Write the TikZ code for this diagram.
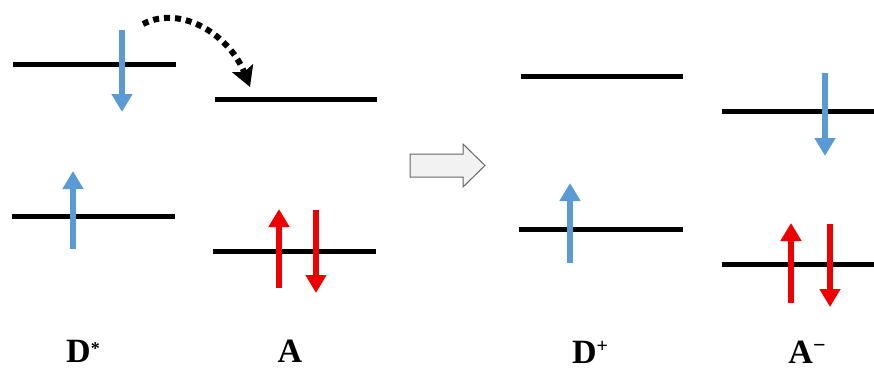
\documentclass[tikz,border=0pt]{standalone}
\usepackage{fontspec}
\setmainfont{Liberation Serif}
\usepackage{xcolor}
\usepackage{tikz}
\usetikzlibrary{arrows.meta, positioning}

\definecolor{spinblue}{RGB}{91,155,213}
\definecolor{spinred}{RGB}{238,0,0}

\begin{document}
\begin{tikzpicture}[
  x=1pt, y=-1pt,
  level/.style={line width=5pt, black},
  upspin/.style={line width=6pt, -{Triangle[width=20pt, length=18pt]}},
  bluespin/.style={upspin, spinblue},
  redspin/.style={upspin, spinred},
  hop/.style={line width=6pt, dash pattern=on 6pt off 5pt, -{Stealth[width=22pt, length=20pt, inset=4pt]}},
  blockarrow/.style={draw=gray!80!black, fill=gray!10, line width=1pt, line join=miter},
  statelabel/.style={font=\bfseries\fontsize{34}{34}\selectfont, anchor=base, inner sep=0pt},
]
\useasboundingbox (0,0) rectangle (874,369);

% D* levels
\draw[level] (13,64) -- (176,64);
\draw[level] (12,216) -- (175,216);
\draw[bluespin] (122,30) -- (122,112);
\draw[bluespin] (73,249) -- (73,171);

% A levels
\draw[level] (215,99) -- (377,99);
\draw[level] (213,251) -- (376,251);
\draw[redspin] (279,288) -- (279,209);
\draw[redspin] (316,210) -- (316,293);

% Electron transfer
\coordinate (hopstart) at (143,24);
\coordinate (hopend) at (250,87);
\draw[hop] (hopstart) .. controls (182,4) and (230,36) .. (hopend);

% Reaction arrow
\draw[blockarrow] (410,154) -- (463,154) -- (463,144) -- (485,165.5)
  -- (463,187) -- (463,177) -- (410,177) -- cycle;

% D+ levels
\draw[level] (521,76) -- (683,76);
\draw[level] (519,229) -- (683,229);
\draw[bluespin] (570,263) -- (570,183);

% A- levels
\draw[level] (722,111) -- (874,111);
\draw[level] (722,264) -- (874,264);
\draw[bluespin] (825,73) -- (825,156);
\draw[redspin] (791,303) -- (791,223);
\draw[redspin] (830,224) -- (830,307);

% Labels
\node[statelabel] (dstar) at (83,362) {D\raisebox{8pt}{\fontsize{18}{18}\selectfont *}};
\node[statelabel] (acc) at (290,362) {A};
\node[statelabel] (dplus) at (590,363) {D\raisebox{11pt}{\fontsize{20}{20}\selectfont +}};
\node[statelabel] (aminus) at (807,363) {A\raisebox{11pt}{\fontsize{22}{22}\selectfont −}};

\end{tikzpicture}
\end{document}
